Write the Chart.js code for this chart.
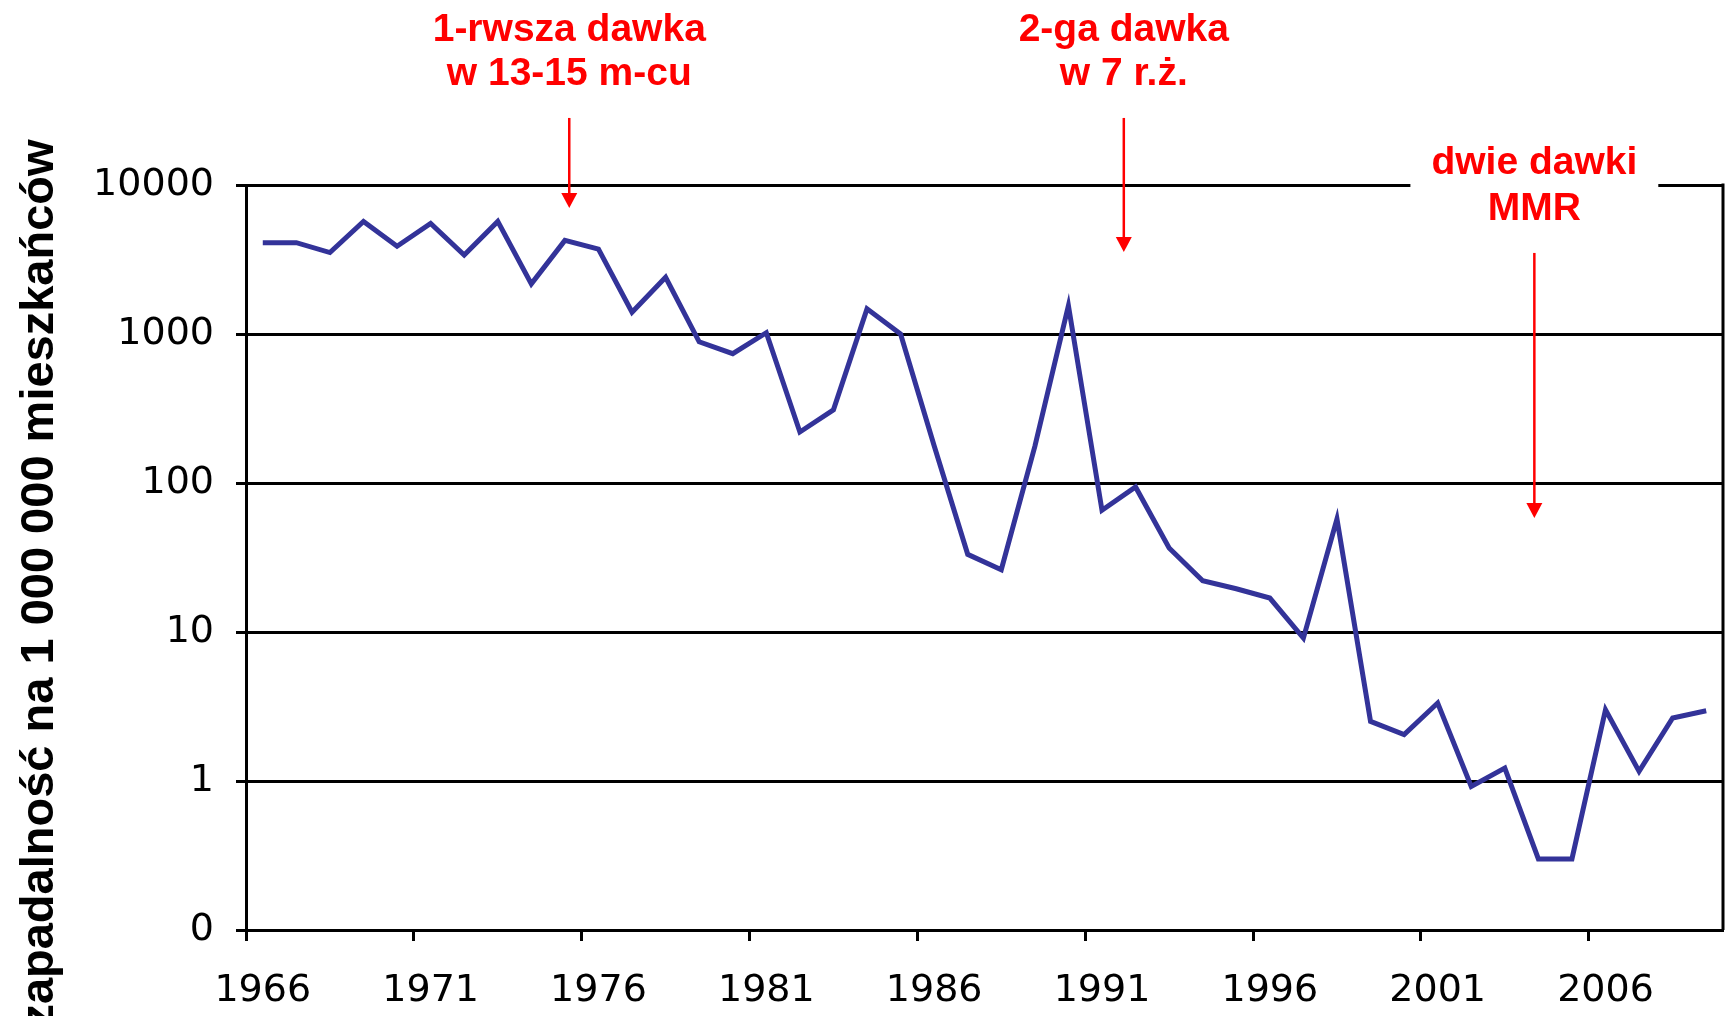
<!DOCTYPE html>
<html lang="pl">
<head>
<meta charset="utf-8">
<title>Zapadalność na odrę 1966-2009</title>
<script src="https://cdn.jsdelivr.net/npm/chart.js@4.4.1/dist/chart.umd.min.js"></script>
<style>
  html, body { margin: 0; padding: 0; background: #fff; }
  #wrap { width: 1731px; height: 1016px; }
</style>
</head>
<body>
<div id="wrap"><canvas id="wykresZap"></canvas></div>
<script>
// lata na osi X
const lata = ['1966', '1967', '1968', '1969', '1970', '1971', '1972', '1973', '1974', '1975',
              '1976', '1977', '1978', '1979', '1980', '1981', '1982', '1983', '1984', '1985',
              '1986', '1987', '1988', '1989', '1990', '1991', '1992', '1993', '1994', '1995',
              '1996', '1997', '1998', '1999', '2000', '2001', '2002', '2003', '2004', '2005',
              '2006', '2007', '2008', '2009'];

// zapadalność na 1 000 000 mieszkańców (odczyt z wykresu)
const zapadalnosc = [4100, 4100, 3520, 5700, 3880, 5530, 3390, 5700, 2170, 4250,
                     3710, 1400, 2400, 886, 738, 1020, 220, 310, 1475, 1000,
                     178, 33.2, 26.2, 176, 1550, 65.6, 94, 36.6, 22.1, 19.5,
                     16.9, 9.1, 57.3, 2.51, 2.05, 3.34, 0.92, 1.22, 0.30, 0.30,
                     3.01, 1.16, 2.65, 2.96];

const yTickValues = [0.1, 1, 10, 100, 1000, 10000];
const yTickLabels = ['0', '1', '10', '100', '1000', '10000'];
const yTitle = 'zapadalność na 1 000 000 mieszkańców';

// teksty adnotacji
const adnotacjeTekst = [
    ['1-rwsza dawka', 'w 13-15 m-cu'],
    ['2-ga dawka', 'w 7 r.ż.'],
    ['dwie dawki', 'MMR']
];

// polozenie adnotacji: indeks kategorii, log10 poziomow tekstu i strzalki
const adnotacjePoz = [
    { idx: 9.13, tekst: [4.968, 4.671], strzalka: [4.45, 3.846], tlo: false },
    { idx: 25.65, tekst: [4.968, 4.671], strzalka: [4.45, 3.55], tlo: false },
    { idx: 37.88, tekst: [4.074, 3.765], strzalka: [3.544, 1.765], tlo: true }
];

const czerwony = '#ff0000';

const adnotacjePlugin = {
    id: 'adnotacje',
    afterDraw(chart) {
        const ctx = chart.ctx;
        const a = chart.chartArea;
        const sx = chart.scales.x;
        const sy = chart.scales.y;
        ctx.save();

        // prawa krawedz obszaru wykresu
        ctx.strokeStyle = '#000';
        ctx.lineWidth = 3;
        ctx.beginPath();
        ctx.moveTo(a.right, a.top - 1.5);
        ctx.lineTo(a.right, a.bottom);
        ctx.stroke();

        // tytul osi Y
        ctx.save();
        ctx.fillStyle = '#000';
        ctx.font = 'bold 47px "Liberation Sans", Arial, sans-serif';
        ctx.textAlign = 'center';
        ctx.textBaseline = 'alphabetic';
        ctx.translate(a.left - 193, (a.top + a.bottom) / 2 + 26);
        ctx.rotate(-Math.PI / 2);
        ctx.fillText(yTitle, 0, 0);
        ctx.restore();

        // adnotacje ze strzalkami
        ctx.font = 'bold 39px "Liberation Sans", Arial, sans-serif';
        ctx.textAlign = 'center';
        ctx.textBaseline = 'alphabetic';
        adnotacjePoz.forEach((p, i) => {
            const x = sx.getPixelForValue(p.idx);
            const linie = adnotacjeTekst[i];
            const ys = p.tekst.map(l => sy.getPixelForValue(Math.pow(10, l)));
            if (p.tlo) {
                const w = Math.max(...linie.map(t => ctx.measureText(t).width));
                ctx.fillStyle = '#fff';
                ctx.fillRect(x - w / 2 - 21, ys[0] - 40, w + 42, ys[1] - ys[0] + 56);
            }
            ctx.fillStyle = czerwony;
            linie.forEach((t, j) => ctx.fillText(t, x, ys[j]));

            const y0 = sy.getPixelForValue(Math.pow(10, p.strzalka[0]));
            const y1 = sy.getPixelForValue(Math.pow(10, p.strzalka[1]));
            ctx.strokeStyle = czerwony;
            ctx.lineWidth = 2.5;
            ctx.beginPath();
            ctx.moveTo(x, y0);
            ctx.lineTo(x, y1 - 12);
            ctx.stroke();
            ctx.beginPath();
            ctx.moveTo(x - 8, y1 - 15);
            ctx.lineTo(x + 8, y1 - 15);
            ctx.lineTo(x, y1);
            ctx.closePath();
            ctx.fill();
        });
        ctx.restore();
    }
};

const ctx = document.getElementById('wykresZap').getContext('2d');
const wykres = new Chart(ctx, {
    type: 'line',
    data: {
        labels: lata,
        datasets: [{
            label: 'zapadalność',
            data: zapadalnosc,
            borderColor: '#333399',
            borderWidth: 5,
            pointRadius: 0,
            tension: 0,
            fill: false
        }]
    },
    options: {
        responsive: true,
        maintainAspectRatio: false,
        animation: false,
        layout: {
            padding: { top: 185, right: 8, left: 0, bottom: 0 }
        },
        plugins: {
            legend: { display: false },
            tooltip: { enabled: false }
        },
        scales: {
            x: {
                type: 'category',
                offset: true,
                grid: {
                    offset: true,
                    drawOnChartArea: false,
                    drawTicks: true,
                    tickLength: 11,
                    tickWidth: 3,
                    tickColor: c => (c.index % 5 === 0 ? '#000' : 'rgba(0,0,0,0)')
                },
                border: { display: true, color: '#000', width: 3 },
                ticks: {
                    autoSkip: false,
                    maxRotation: 0,
                    minRotation: 0,
                    padding: 27,
                    color: '#000',
                    font: { family: '"DejaVu Sans", sans-serif', size: 38 },
                    callback: (v, i) => (i % 5 === 0 ? lata[i] : '')
                },
                afterFit: s => {
                    s.height = 86;
                    s.paddingLeft = 0;
                    s.paddingRight = 0;
                }
            },
            y: {
                type: 'logarithmic',
                min: 0.1,
                max: 10000,
                afterBuildTicks: s => { s.ticks = yTickValues.map(v => ({ value: v })); },
                grid: {
                    color: '#000',
                    lineWidth: 3,
                    drawTicks: true,
                    tickLength: 10
                },
                border: { display: true, color: '#000', width: 3 },
                ticks: {
                    padding: 22,
                    color: '#000',
                    font: { family: '"DejaVu Sans", sans-serif', size: 38 },
                    callback: v => {
                        const i = yTickValues.indexOf(v);
                        return i >= 0 ? yTickLabels[i] : '';
                    }
                },
                afterFit: s => { s.width = 246; }
            }
        }
    },
    plugins: [adnotacjePlugin]
});
</script>
</body>
</html>
